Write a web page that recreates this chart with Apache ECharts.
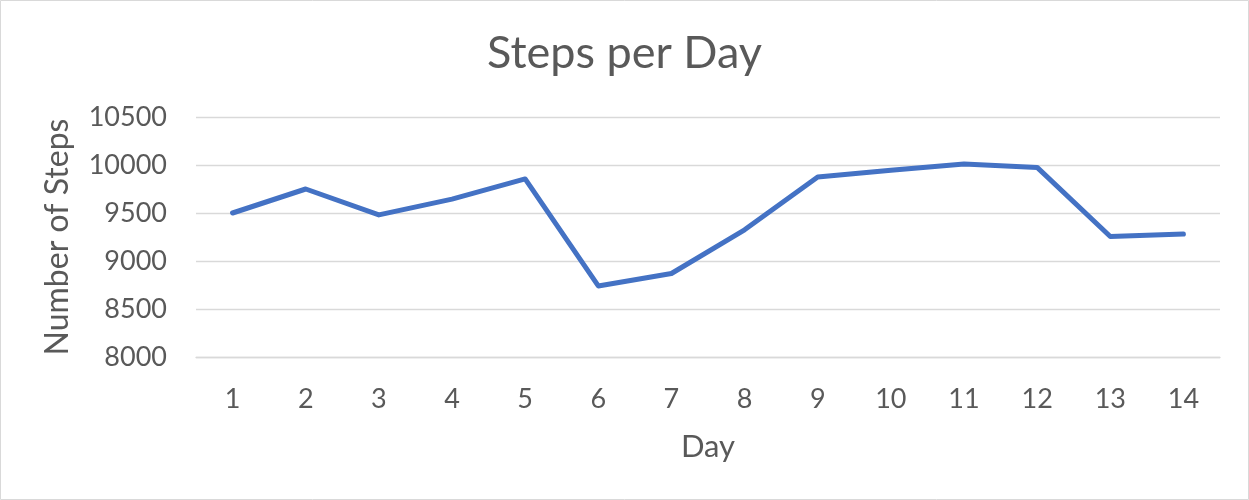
<!DOCTYPE html>
<html>
<head>
<meta charset="utf-8">
<title>Steps per Day</title>
<script src="https://cdn.jsdelivr.net/npm/echarts@6/dist/echarts.min.js"></script>
<style>
  html, body { margin: 0; padding: 0; background: #fff; }
  #chart { width: 1249px; height: 500px; }
</style>
</head>
<body>
<div id="chart"></div>
<script>
// data
const days = ['1', '2', '3', '4', '5', '6', '7', '8', '9', '10', '11', '12', '13', '14'];
const steps = [9500, 9750, 9480, 9645, 9855, 8740, 8870, 9325, 9875, 9945, 10010, 9975, 9255, 9280];

const textColor = '#595959';
const gridColor = '#d9d9d9';
const fontName = 'Lato';

let chartDom = document.getElementById('chart');
let myChart = echarts.init(chartDom);

const option = {
  backgroundColor: '#fff',
  textStyle: { fontFamily: fontName },
  title: {
    text: 'Steps per Day',
    left: 'center',
    top: 26,
    textStyle: { color: textColor, fontSize: 45, fontWeight: 'normal', fontFamily: fontName }
  },
  graphic: [{
    type: 'rect',
    shape: { x: 0.5, y: 0.5, width: 1248, height: 499 },
    style: { fill: 'none', stroke: gridColor, lineWidth: 1 },
    silent: true
  }],
  grid: { left: 196, right: 29, top: 117, bottom: 143 },
  xAxis: {
    type: 'category',
    data: days,
    boundaryGap: true,
    name: 'Day',
    nameLocation: 'middle',
    nameGap: 74,
    nameTextStyle: { color: textColor, fontSize: 31 },
    axisLine: { show: true, lineStyle: { color: gridColor, width: 1.3 } },
    axisTick: { show: false },
    axisLabel: { color: textColor, fontSize: 27, margin: 29 }
  },
  yAxis: {
    type: 'value',
    min: 8000,
    max: 10500,
    interval: 500,
    name: 'Number of Steps',
    nameLocation: 'middle',
    nameGap: 122,
    nameTextStyle: { color: textColor, fontSize: 32 },
    axisLine: { show: false },
    axisTick: { show: false },
    axisLabel: {
      color: textColor,
      fontSize: 27,
      margin: 29,
      formatter: function (v) { return String(v); }
    },
    splitLine: { lineStyle: { color: gridColor, width: 1.3 } }
  },
  series: [{
    name: 'Steps',
    type: 'line',
    data: steps,
    symbol: 'none',
    smooth: false,
    lineStyle: { color: '#4472C4', width: 5, cap: 'round', join: 'round' },
    itemStyle: { color: '#4472C4' }
  }]
};

myChart.setOption(option);

window.addEventListener('resize', function() {
  myChart.resize();
});
</script>
</body>
</html>
